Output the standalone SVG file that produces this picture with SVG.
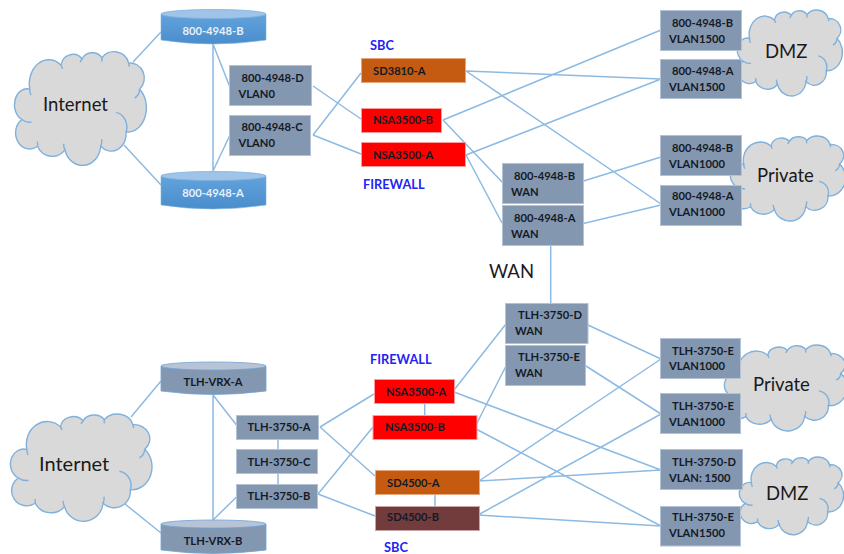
<svg xmlns="http://www.w3.org/2000/svg" width="844" height="554" viewBox="0 0 844 554">
<style>
text{font-family:Lato,"Liberation Sans",sans-serif;}
.c{fill:#d9d9d9;stroke:#7fb1dd;stroke-width:1.4;}
.ci{fill:none;stroke:#7fb1dd;stroke-width:1.4;}
.cl{font-size:18.500px;fill:#1a1a1a;}
.n{fill:#8497b0;stroke:#b4c2d6;stroke-width:1;}
.t{font-size:11.200px;font-weight:700;fill:#141a26;}
.tm{text-anchor:middle;}
.w{fill:#e8f0fa;}
.b{font-size:12.800px;font-weight:700;fill:#2323f5;}
.l{stroke:#8dbae3;stroke-width:1.500;fill:none;}
.red{fill:#ff0000;stroke:#ff9a9a;}
.or{fill:#c55a11;stroke:#e6a77d;}
.br{fill:#733c3c;stroke:#c9a5a5;}
.top{fill:#9fc4e8;stroke:#7fb1dd;stroke-width:.8;}
.topg{fill:#b8c4d6;stroke:#6fa5d8;stroke-width:.8;}
</style>
<defs>
<linearGradient id="bg" x1="0" y1="0" x2="0" y2="1"><stop offset="0" stop-color="#62a3dc"/><stop offset="1" stop-color="#4a8dcc"/></linearGradient>
<g id="cloud">
<path class="c" vector-effect="non-scaling-stroke" d="M38 115A62 68 0 0 1 138 48A38 34 0 0 1 205 30A36 30 0 0 1 268 27A48 42 0 0 1 353 42A45 42 0 0 1 388 115A60 68 0 0 1 345 235A48 48 0 0 1 264 275A58 58 0 0 1 150 285A52 50 0 0 1 63 275A42 42 0 0 1 13 200A40 45 0 0 1 38 115Z"/>
<path class="ci" vector-effect="non-scaling-stroke" d="M313 180A42 42 0 0 1 345 235M264 275A30 30 0 0 0 267 255M150 285A30 30 0 0 1 146 268M63 275A30 30 0 0 0 62 262M13 200A40 40 0 0 0 43 207M38 115A30 30 0 0 0 42 132M138 48A30 30 0 0 1 142 58M205 30A30 30 0 0 0 199 40M268 27A30 30 0 0 0 268 38M353 42A30 30 0 0 1 355 52M388 115A30 30 0 0 1 372 140"/>
</g>
</defs>
<g id="clouds">
<g id="cloud-internet-top"><use href="#cloud" transform="translate(17.800 48.100) scale(.314 .357)"/><text class="cl" x="43" y="111">Internet</text></g>
<g id="cloud-dmz-top"><use href="#cloud" transform="translate(740 7.300) scale(.25 .27)"/><text class="cl" x="765" y="58">DMZ</text></g>
<g id="cloud-private-top"><use href="#cloud" transform="translate(733.300 133.300) scale(.274 .267)"/><text class="cl" x="757" y="182">Private</text></g>
<g id="cloud-private-bottom"><use href="#cloud" transform="translate(727.500 342.300) scale(.292 .27)"/><text class="cl" x="753" y="391">Private</text></g>
<g id="cloud-dmz-bottom"><use href="#cloud" transform="translate(742 454.600) scale(.248 .244)"/><text class="cl" x="766" y="500">DMZ</text></g>
<g id="cloud-internet-bottom"><use href="#cloud" transform="translate(14 410.600) scale(.337)"/><text class="cl" x="39" y="471" style="font-size:20px">Internet</text></g>
</g>
<g id="connectors">
<path class="l" d="M133 62L161 32M124 145L161 185M213 44V171M213 44L229.500 86M213 171L229.500 136M313 86L361 119M313 135L361 73M313 135L361 154"/>
<path class="l" d="M466 71L661 79M466 71L661 204M443 120L661 30M443 120L503 183M466 155L661 79M466 155L502 223M577 183L661 157M577 225L661 205M550.700 245V304"/>
<path class="l" d="M131 417L161 381M125 504L161 533M213 395V520M213 395L236.500 425M213 520L236.500 497M320 427L374 394M320 427L375 476M318 494L373 427M318 494L375 516M278 439V450M278 473V484M424.700 404V415M435 494V506"/>
<path class="l" d="M454 390L506 324M476 425L506 366M454 392L661 470M476 429L661 526M479 481L661 359M479 481L661 470M478 515L661 414M478 515L661 526M588 325L661 359M586 366L661 414"/>
</g>
<g id="n-800-4948-b-cyl"><path fill="url(#bg)" stroke="#7fb1dd" stroke-width=".6" d="M161 14V40Q213 48 266 40V14Z"/><ellipse class="top" cx="213.500" cy="14" rx="52.500" ry="4.500"/><text class="t w tm" x="213" y="35">800-4948-B</text></g>
<g id="n-800-4948-a-cyl"><path fill="url(#bg)" stroke="#7fb1dd" stroke-width=".6" d="M161 176V205Q213 213 266 205V176Z"/><ellipse class="top" cx="213.500" cy="176" rx="52.500" ry="4.500"/><text class="t w tm" x="213" y="197">800-4948-A</text></g>
<g id="n-800-4948-d"><rect class="n" x="229.500" y="65.500" width="82" height="40"/><text class="t" x="241.500" y="82">800-4948-D</text><text class="t" x="238.500" y="98">VLAN0</text></g>
<g id="n-800-4948-c"><rect class="n" x="229.500" y="115.500" width="81" height="40"/><text class="t" x="241.500" y="131">800-4948-C</text><text class="t" x="238.500" y="147">VLAN0</text></g>
<g id="n-sd3810-a"><rect class="n or" x="361.500" y="58.500" width="104" height="24"/><text class="t" x="373" y="75">SD3810-A</text></g>
<g id="n-nsa3500-b-top"><rect class="n red" x="361.500" y="108.500" width="80" height="24"/><text class="t" x="373" y="124">NSA3500-B</text></g>
<g id="n-nsa3500-a-top"><rect class="n red" x="361.500" y="142.500" width="104" height="24"/><text class="t" x="373" y="159">NSA3500-A</text></g>
<g id="n-b-1500"><rect class="n" x="660.500" y="10.500" width="81" height="40"/><text class="t" x="672" y="27">800-4948-B</text><text class="t" x="669" y="43">VLAN1500</text></g>
<g id="n-a-1500"><rect class="n" x="660.500" y="59.500" width="81" height="39"/><text class="t" x="672" y="75">800-4948-A</text><text class="t" x="669" y="91">VLAN1500</text></g>
<g id="n-b-1000"><rect class="n" x="660.500" y="135.500" width="81" height="40"/><text class="t" x="672" y="152">800-4948-B</text><text class="t" x="669" y="168">VLAN1000</text></g>
<g id="n-a-1000"><rect class="n" x="660.500" y="185.500" width="81" height="40"/><text class="t" x="672" y="200">800-4948-A</text><text class="t" x="669" y="216">VLAN1000</text></g>
<g id="n-b-wan"><rect class="n" x="502.500" y="163.500" width="81" height="40"/><text class="t" x="514" y="180">800-4948-B</text><text class="t" x="511" y="196">WAN</text></g>
<g id="n-a-wan"><rect class="n" x="502.500" y="205.500" width="81" height="40"/><text class="t" x="514" y="222">800-4948-A</text><text class="t" x="511" y="238">WAN</text></g>
<g id="n-vrx-a"><path fill="#8497b0" stroke="#6fa5d8" stroke-width=".8" d="M161 366V391Q213 398 266 391V366Z"/><ellipse class="topg" cx="213.500" cy="366" rx="52.500" ry="4"/><text class="t tm" x="213" y="386">TLH-VRX-A</text></g>
<g id="n-vrx-b"><path fill="#8497b0" stroke="#6fa5d8" stroke-width=".8" d="M161 524V550Q213 557 266 550V524Z"/><ellipse class="topg" cx="213.500" cy="524" rx="52.500" ry="4"/><text class="t tm" x="213" y="545">TLH-VRX-B</text></g>
<g id="n-3750-a"><rect class="n" x="236.500" y="415.500" width="82" height="24"/><text class="t tm" x="279" y="431">TLH-3750-A</text></g>
<g id="n-3750-c"><rect class="n" x="236.500" y="449.500" width="81" height="24"/><text class="t tm" x="279" y="466">TLH-3750-C</text></g>
<g id="n-3750-b"><rect class="n" x="236.500" y="484.500" width="81" height="24"/><text class="t tm" x="279" y="500">TLH-3750-B</text></g>
<g id="n-nsa3500-a-bot"><rect class="n red" x="374.500" y="379.500" width="80" height="24"/><text class="t" x="386" y="396">NSA3500-A</text></g>
<g id="n-nsa3500-b-bot"><rect class="n red" x="373" y="415.500" width="104" height="24"/><text class="t" x="385" y="431">NSA3500-B</text></g>
<g id="n-sd4500-a"><rect class="n or" x="375.500" y="470.500" width="104" height="24"/><text class="t" x="387" y="487">SD4500-A</text></g>
<g id="n-sd4500-b"><rect class="n br" x="375.500" y="506.500" width="104" height="24"/><text class="t" x="387" y="521">SD4500-B</text></g>
<g id="n-d-wan"><rect class="n" x="505.500" y="303.500" width="82.500" height="40"/><text class="t" x="518" y="319">TLH-3750-D</text><text class="t" x="515" y="335">WAN</text></g>
<g id="n-e-wan"><rect class="n" x="505.500" y="345.500" width="80" height="40"/><text class="t" x="518" y="361">TLH-3750-E</text><text class="t" x="515" y="377">WAN</text></g>
<g id="n-e-1000a"><rect class="n" x="660.500" y="338.500" width="80" height="40"/><text class="t" x="672" y="355">TLH-3750-E</text><text class="t" x="669" y="370">VLAN1000</text></g>
<g id="n-e-1000b"><rect class="n" x="660.500" y="393.500" width="80" height="40"/><text class="t" x="672" y="410">TLH-3750-E</text><text class="t" x="669" y="426">VLAN1000</text></g>
<g id="n-d-1500"><rect class="n" x="660.500" y="449.500" width="82" height="40"/><text class="t" x="672" y="466">TLH-3750-D</text><text class="t" x="669" y="482">VLAN: 1500</text></g>
<g id="n-e-1500"><rect class="n" x="660.500" y="506.500" width="80" height="39.500"/><text class="t" x="672" y="521">TLH-3750-E</text><text class="t" x="669" y="537">VLAN1500</text></g>
<g id="labels">
<text class="b" x="370" y="50">SBC</text>
<text class="b" x="363" y="189">FIREWALL</text>
<text class="b" x="370" y="364">FIREWALL</text>
<text class="b" x="384" y="552">SBC</text>
<text class="cl" x="489" y="278">WAN</text>
</g>
</svg>
